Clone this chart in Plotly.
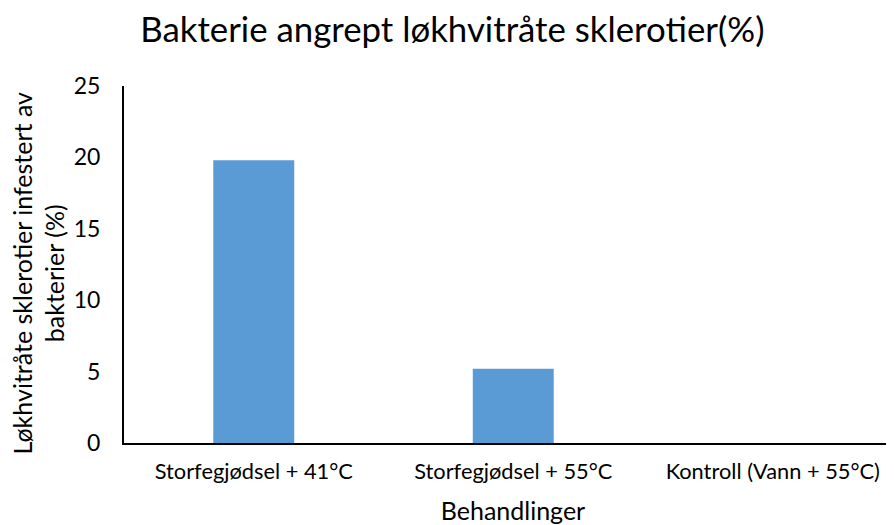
import plotly.graph_objects as go

categories = ["Storfegjødsel + 41°C", "Storfegjødsel + 55°C", "Kontroll (Vann + 55°C)"]
values = [19.8, 5.2, 0]
y_ticks = [0, 5, 10, 15, 20, 25]

fig = go.Figure()
fig.add_trace(go.Bar(
    x=categories, y=values,
    marker=dict(color="#5B9BD5", line=dict(width=0)),
    width=0.312,
))

font_family = "Lato, Carlito, Calibri, sans-serif"
fig.update_layout(
    width=894, height=525,
    margin=dict(l=116, r=0, t=78, b=90),
    paper_bgcolor="white", plot_bgcolor="white",
    showlegend=False,
    font=dict(family=font_family, color="black"),
    title=dict(text="Bakterie angrept løkhvitråte sklerotier(%)",
               x=0.497, xref="container", xanchor="center",
               y=0.958, yref="container", yanchor="middle",
               font=dict(size=34.8, family=font_family, color="black")),
    xaxis=dict(
        range=[-0.5, 2.498], automargin=False,
        showline=True, linecolor="black", linewidth=2,
        showgrid=False, ticks="outside", ticklen=8, tickcolor="rgba(0,0,0,0)",
        tickfont=dict(size=21.8),
        title=dict(text="Behandlinger", font=dict(size=25), standoff=19),
    ),
    yaxis=dict(
        range=[0, 25], tickvals=y_ticks, automargin=False,
        showline=True, linecolor="black", linewidth=2,
        showgrid=False, zeroline=False, ticks="outside", ticklen=17, tickcolor="rgba(0,0,0,0)",
        tickfont=dict(size=23),
    ),
    annotations=[dict(
        text="Løkhvitråte sklerotier infestert av<br>bakterier (%)",
        xref="paper", yref="paper", x=0, y=0.5,
        xanchor="center", yanchor="middle",
        xshift=-86, yshift=-9, textangle=-90, showarrow=False,
        font=dict(size=25, family=font_family, color="black"),
    )],
)

fig.write_html("out.html")
